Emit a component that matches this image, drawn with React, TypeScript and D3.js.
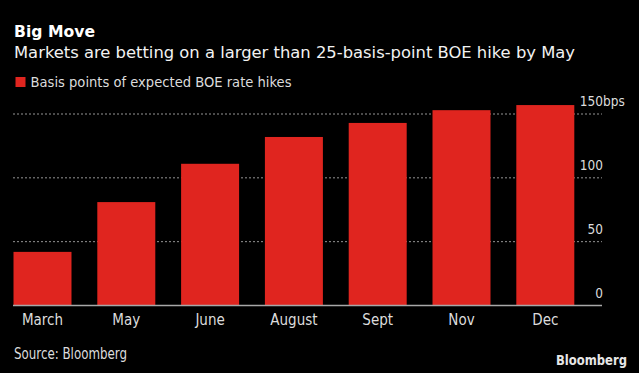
import React from "react";
import * as d3 from "d3";

const categories = ["March", "May", "June", "August", "Sept", "Nov", "Dec"];
const values = [42, 81, 111, 132, 143, 153, 157];
const yTicks = [0, 50, 100, 150];

const W = 639;
const H = 373;
const FONT = "'Liberation Sans Narrow', 'DejaVu Sans Condensed', 'Roboto', sans-serif";

export default function App() {
  const x = d3.scaleBand<string>().domain(categories).range([13.5, 574.3]).paddingInner(0.308).paddingOuter(0);
  const y = d3.scaleLinear().domain([0, 150]).range([305.5, 114]);
  const gridX0 = 13;
  const gridX1 = 602;
  const labelX = 603;

  return (
    <svg
      width={W}
      height={H}
      style={{ position: "absolute", left: 0, top: 0, background: "#000" }}
      fontFamily={FONT}
    >
      <rect x={0} y={0} width={W} height={H} fill="#000" />
      <text x={14} y={37} fill="#fff" fontSize={16} fontWeight="bold" fontFamily="'DejaVu Sans', sans-serif" textLength={81} lengthAdjust="spacingAndGlyphs">
        Big Move
      </text>
      <text x={14} y={58.3} fill="#f2f2f2" fontSize={15.5} textLength={561} lengthAdjust="spacingAndGlyphs">
        Markets are betting on a larger than 25-basis-point BOE hike by May
      </text>
      <rect x={15.5} y={77} width={10} height={10} fill="#e0251f" />
      <text x={30.5} y={87} fill="#dcdcdc" fontSize={14} textLength={261} lengthAdjust="spacingAndGlyphs">
        Basis points of expected BOE rate hikes
      </text>

      {yTicks.filter((t) => t > 0).map((t) => (
        <line
          key={"g" + t}
          x1={gridX0}
          x2={gridX1}
          y1={y(t)}
          y2={y(t)}
          stroke="#959595"
          strokeWidth={1}
          strokeDasharray="2,2"
        />
      ))}

      {categories.map((c, i) => (
        <rect
          key={c}
          x={x(c)}
          y={y(values[i])}
          width={x.bandwidth()}
          height={y(0) - y(values[i])}
          fill="#e0251f"
        />
      ))}

      <line x1={gridX0} x2={gridX1} y1={y(0)} y2={y(0)} stroke="#a8a8a8" strokeWidth={1.5} />

      {yTicks.map((t) => (
        <text key={"t" + t} x={labelX} y={y(t) - 8} fill="#dcdcdc" fontSize={13.5} textAnchor="end">
          {t}
        </text>
      ))}
      <text x={labelX} y={y(150) - 8} fill="#dcdcdc" fontSize={13.5}>
        bps
      </text>

      {categories.map((c) => (
        <text
          key={"l" + c}
          x={(x(c) as number) + x.bandwidth() / 2}
          y={325}
          fill="#dcdcdc"
          fontSize={15}
          textAnchor="middle"
        >
          {c}
        </text>
      ))}

      <text x={14} y={359.3} fill="#dcdcdc" fontSize={15} textLength={113} lengthAdjust="spacingAndGlyphs">
        Source: Bloomberg
      </text>
      <text x={556} y={365} fill="#e6e6e6" fontSize={13.5} fontWeight="bold" fontFamily="'DejaVu Sans', sans-serif" textLength={71} lengthAdjust="spacingAndGlyphs">
        Bloomberg
      </text>
    </svg>
  );
}
